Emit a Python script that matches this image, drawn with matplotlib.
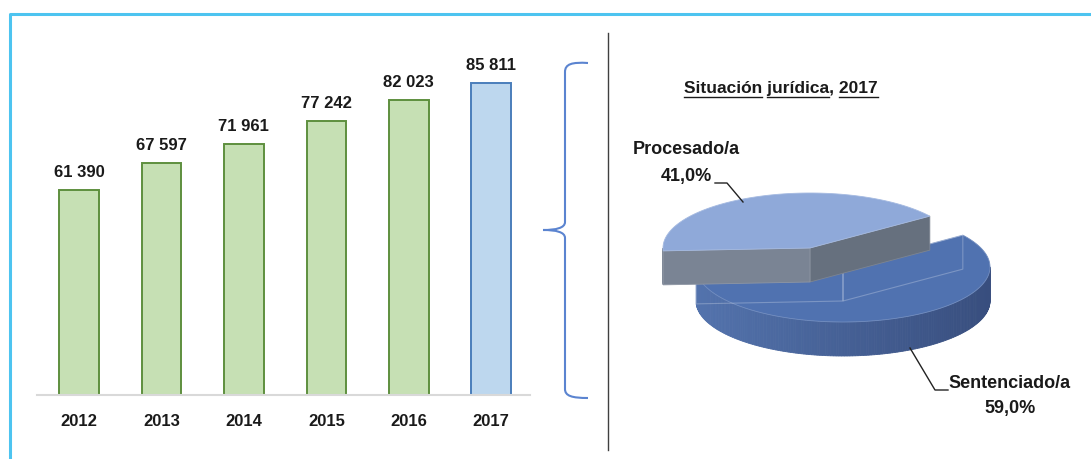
import matplotlib
matplotlib.use("Agg")
import matplotlib.pyplot as plt
import numpy as np
from matplotlib.patches import Polygon, PathPatch
from matplotlib.path import Path

# data
years = ["2012", "2013", "2014", "2015", "2016", "2017"]
internos = [61390, 67597, 71961, 77242, 82023, 85811]
situacion = ["Procesado/a", "Sentenciado/a"]
porcentajes = [41.0, 59.0]

plt.rcParams["font.family"] = ["Liberation Sans Narrow", "Liberation Sans", "DejaVu Sans"]

W, H = 1091, 459
fig = plt.figure(figsize=(W / 100, H / 100), dpi=100)


def px_box(x0, y0, x1, y1):
    return [x0 / W, 1 - y1 / H, (x1 - x0) / W, (y1 - y0) / H]


# ---- bar chart ----
ax = fig.add_axes(px_box(37, 30, 530, 395))
xpos = np.arange(len(years))
fills = ["#C6E0B4"] * (len(years) - 1) + ["#BDD7EE"]
edges = ["#5E8F3E"] * (len(years) - 1) + ["#4A7EBB"]
ax.bar(xpos, internos, width=0.48, color=fills, edgecolor=edges, linewidth=1.4)
for i, v in enumerate(internos):
    ax.annotate(f"{v:,}".replace(",", " "), (i, v), xytext=(0, 7), textcoords="offset points",
                ha="center", va="bottom", fontsize=12, fontweight="bold", color="#1a1a1a")
ax.set_xlim(-0.51, 5.47)
ax.set_ylim(14600, 97900)
ax.set_xticks(xpos, years, fontsize=12, fontweight="bold", color="#1a1a1a")
ax.set_yticks([])
ax.tick_params(axis="x", length=0, pad=14)
for s in ["top", "left", "right"]:
    ax.spines[s].set_visible(False)
ax.spines["bottom"].set_color("#D9D9D9")
ax.spines["bottom"].set_linewidth(1.5)
ax.patch.set_alpha(0)

# ---- overlay in pixel coordinates ----
ov = fig.add_axes([0, 0, 1, 1])
ov.set_xlim(0, W)
ov.set_ylim(H, 0)
ov.axis("off")
ov.patch.set_alpha(0)

# frame and divider
ov.plot([10, 10, W], [H, 14, 14], color="#4DC4F0", lw=2.2, solid_capstyle="butt")
ov.plot([608, 608], [33, 450], color="#404040", lw=1)

# brace
verts = [(588, 63), (572, 62), (565, 64), (565, 72),
         (565, 222),
         (565, 228), (556, 230), (543, 230),
         (556, 230), (565, 232), (565, 238),
         (565, 389),
         (565, 396), (572, 398), (588, 398)]
codes = [Path.MOVETO, Path.CURVE4, Path.CURVE4, Path.CURVE4,
         Path.LINETO,
         Path.CURVE4, Path.CURVE4, Path.CURVE4,
         Path.CURVE4, Path.CURVE4, Path.CURVE4,
         Path.LINETO,
         Path.CURVE4, Path.CURVE4, Path.CURVE4]
ov.add_patch(PathPatch(Path(verts, codes), fill=False, edgecolor="#5B84D0", lw=1.5))

# ---- 3d pie ----
RX, RY, DEPTH = 147, 55, 34
START = 183.0


def ell(cx, cy, t):
    t = np.radians(t)
    return cx + RX * np.cos(t), cy - RY * np.sin(t)


def mix(c1, c2, f):
    c1 = np.array(matplotlib.colors.to_rgb(c1))
    c2 = np.array(matplotlib.colors.to_rgb(c2))
    return tuple(c1 + (c2 - c1) * f)


def slice3d(cx, cy, a0, a1, top, side0, side1, wall0, wall1):
    ts = np.linspace(a0, a1, 200)
    # outer rim, front half only
    for ta, tb in zip(ts[:-1], ts[1:]):
        if np.sin(np.radians((ta + tb) / 2)) < 0:
            xa, ya = ell(cx, cy, ta)
            xb, yb = ell(cx, cy, tb)
            f = (np.cos(np.radians((ta + tb) / 2)) + 1) / 2
            c = mix(side0, side1, f)
            ov.add_patch(Polygon([(xa, ya), (xb, yb), (xb, yb + DEPTH), (xa, ya + DEPTH)],
                                 closed=True, facecolor=c, edgecolor=c, lw=0.6))
    hidden = []
    # radial walls facing the viewer
    for ang, nrm, col in [(a0, a0 - 90, wall0), (a1, a1 + 90, wall1)]:
        x, y = ell(cx, cy, ang)
        quad = [(cx, cy), (x, y), (x, y + DEPTH), (cx, cy + DEPTH)]
        if np.sin(np.radians(nrm)) < 0:
            ov.add_patch(Polygon(quad, closed=True, facecolor=col,
                                 edgecolor=mix(col, "#ffffff", 0.15), lw=0.6))
        else:
            hidden.append(quad)
    xs, ys = ell(cx, cy, ts)
    pts = [(cx, cy)] + list(zip(xs, ys))
    ov.add_patch(Polygon(pts, closed=True, facecolor=top, edgecolor=mix(top, "#ffffff", 0.2), lw=0.6))
    # faint outline of the hidden cut face, as in the source rendering
    for quad in hidden:
        ov.add_patch(Polygon(quad, closed=True, fill=False, edgecolor="#ffffff", alpha=0.25, lw=0.8))


a_proc = START - porcentajes[0] / 100 * 360
a_sent = START + porcentajes[1] / 100 * 360
# sentenciado (front) first, procesado (raised, exploded) on top
slice3d(843, 267, START, a_sent, "#5072B0", "#5373AD", "#384E7E", "#3F5A8C", "#3F5A8C")
slice3d(810, 248, a_proc, START, "#8FA9D9", "#7E8797", "#6B7483", "#66707E", "#7A8494")

# pie labels
lab = dict(ha="center", va="center", fontsize=13, fontweight="bold", color="#1a1a1a")
pct = [f"{p:.1f}%".replace(".", ",") for p in porcentajes]
ov.text(686, 150, situacion[0], **lab)
ov.text(686, 177, pct[0], **lab)
ov.text(1010, 383, situacion[1], **lab)
ov.text(1010, 408, pct[1], **lab)
ov.plot([715, 727, 743], [183, 183, 202], color="#222222", lw=1)
ov.plot([910, 935, 948], [348, 390, 390], color="#222222", lw=1)

# title with underlined words
title = "Situación jurídica, 2017"
tkw = dict(fontsize=12.5, fontweight="bold", color="#1a1a1a")
renderer = fig.canvas.get_renderer()


def width(s):
    t = ov.text(0, 0, s, **tkw)
    w = t.get_window_extent(renderer).width
    t.remove()
    return w


total = width(title)
x0 = 781 - total / 2
ov.text(x0, 93, title, ha="left", va="baseline", **tkw)
for word in ["Situación", "jurídica", "2017"]:
    end = title.index(word) + len(word)
    xe = x0 + width(title[:end])
    xs_ = xe - width(word)
    ov.plot([xs_, xe], [97, 97], color="#1a1a1a", lw=1)

fig.savefig("out.png", dpi=100)
